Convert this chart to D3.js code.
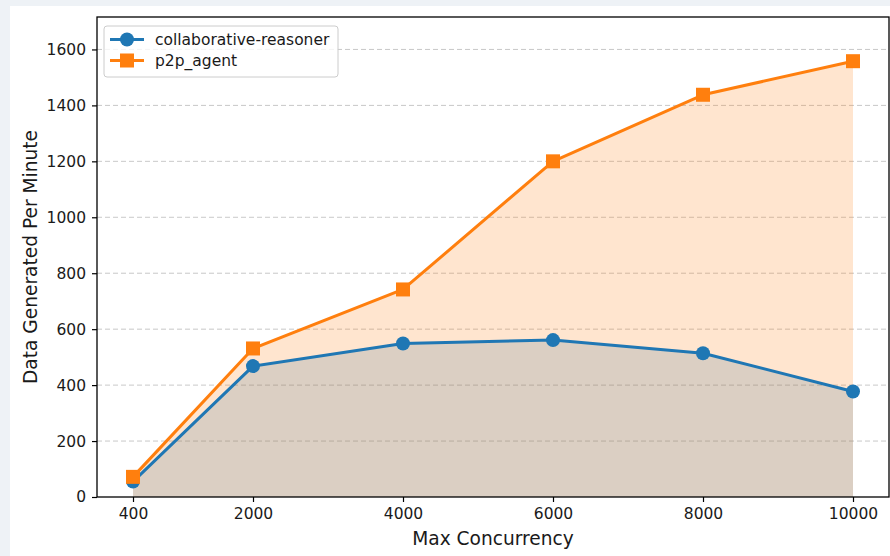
<!DOCTYPE html>
<html>
<head>
<meta charset="utf-8">
<script src="https://cdn.jsdelivr.net/npm/d3@7"></script>
<style>
  html, body { margin: 0; padding: 0; background: #eef2f6; }
  svg { display: block; }
  text { font-family: "DejaVu Sans", sans-serif; fill: #1a1a1a; }
</style>
</head>
<body>
<script>
// données
const concurrence = [400, 2000, 4000, 6000, 8000, 10000];
const collaboratif = [55, 468, 549, 561, 514, 377];
const p2p = [72, 531, 742, 1200, 1438, 1558];
const graduationsY = [0, 200, 400, 600, 800, 1000, 1200, 1400, 1600];

const series = [
  { nom: 'collaborative-reasoner', valeurs: collaboratif, couleur: '#1f77b4', marque: 'cercle' },
  { nom: 'p2p_agent', valeurs: p2p, couleur: '#ff7f0e', marque: 'carre' }
];

const largeur = 890, hauteur = 556;
const marge = { gauche: 97, droite: 889, haut: 17, bas: 497 };

// le canevas
const canevas = d3.select('body').append('svg')
  .attr('width', largeur)
  .attr('height', hauteur);

// carte blanche sur le fond gris
canevas.append('rect')
  .attr('x', 10).attr('y', 6)
  .attr('width', largeur).attr('height', hauteur)
  .attr('fill', '#ffffff');

// échelles
const x = d3.scaleLinear().domain([-80, 10480]).range([marge.gauche, marge.droite]);
const y = d3.scaleLinear().domain([0, 1716]).range([marge.bas, marge.haut]);

// grille horizontale en pointillés
canevas.append('g')
  .selectAll('line')
  .data(graduationsY.filter(d => d > 0))
  .join('line')
  .attr('x1', marge.gauche).attr('x2', marge.droite)
  .attr('y1', d => y(d)).attr('y2', d => y(d))
  .attr('stroke', '#b0b0b0')
  .attr('stroke-opacity', 0.7)
  .attr('stroke-width', 1)
  .attr('stroke-dasharray', '5,3');

// aires remplies (bleu puis orange par-dessus)
const aire = d3.area()
  .x((d, i) => x(concurrence[i]))
  .y0(y(0))
  .y1(d => y(d));

series.forEach(s => {
  canevas.append('path')
    .attr('d', aire(s.valeurs))
    .attr('fill', s.couleur)
    .attr('fill-opacity', 0.2);
});

// lignes et marqueurs
const ligne = d3.line()
  .x((d, i) => x(concurrence[i]))
  .y(d => y(d));

const dessinerMarque = (g, s, cx, cy) => {
  if (s.marque === 'cercle') {
    g.append('circle')
      .attr('cx', cx).attr('cy', cy).attr('r', 7)
      .attr('fill', s.couleur);
  } else {
    g.append('rect')
      .attr('x', cx - 7).attr('y', cy - 7)
      .attr('width', 14).attr('height', 14)
      .attr('fill', s.couleur);
  }
};

series.forEach(s => {
  const g = canevas.append('g');
  g.append('path')
    .attr('d', ligne(s.valeurs))
    .attr('fill', 'none')
    .attr('stroke', s.couleur)
    .attr('stroke-width', 3)
    .attr('stroke-linejoin', 'round');
  s.valeurs.forEach((v, i) => dessinerMarque(g, s, x(concurrence[i]), y(v)));
});

// axes
const axeX = canevas.append('g')
  .attr('transform', `translate(0,${marge.bas})`)
  .call(d3.axisBottom(x).tickValues(concurrence).tickFormat(d3.format('d')).tickSize(5).tickPadding(6).tickSizeOuter(0));
const axeY = canevas.append('g')
  .attr('transform', `translate(${marge.gauche},0)`)
  .call(d3.axisLeft(y).tickValues(graduationsY).tickFormat(d3.format('d')).tickSize(5).tickPadding(6).tickSizeOuter(0));

[axeX, axeY].forEach(a => {
  a.select('.domain').remove();
  a.selectAll('line').attr('stroke', '#000').attr('stroke-width', 1.2);
  a.selectAll('text').attr('font-size', 15.5).attr('fill', '#1a1a1a')
    .attr('font-family', '"DejaVu Sans", sans-serif');
});

// cadre du graphique
canevas.append('rect')
  .attr('x', marge.gauche).attr('y', marge.haut)
  .attr('width', marge.droite - marge.gauche)
  .attr('height', marge.bas - marge.haut)
  .attr('fill', 'none')
  .attr('stroke', '#000')
  .attr('stroke-width', 1.3);

// titres des axes
canevas.append('text')
  .attr('x', (marge.gauche + marge.droite) / 2)
  .attr('y', 545)
  .attr('text-anchor', 'middle')
  .attr('font-size', 18.6)
  .text('Max Concurrency');

canevas.append('text')
  .attr('transform', `translate(37,${(marge.haut + marge.bas) / 2}) rotate(-90)`)
  .attr('text-anchor', 'middle')
  .attr('font-size', 18.6)
  .text('Data Generated Per Minute');

// légende
const legende = canevas.append('g').attr('transform', 'translate(104,26)');
legende.append('rect')
  .attr('width', 234).attr('height', 51)
  .attr('rx', 3)
  .attr('fill', '#ffffff').attr('fill-opacity', 0.8)
  .attr('stroke', '#cccccc').attr('stroke-width', 1);

series.forEach((s, i) => {
  const cy = 13.5 + i * 21;
  const g = legende.append('g');
  g.append('line')
    .attr('x1', 6).attr('x2', 40)
    .attr('y1', cy).attr('y2', cy)
    .attr('stroke', s.couleur).attr('stroke-width', 3);
  dessinerMarque(g, s, 23, cy);
  g.append('text')
    .attr('x', 51).attr('y', cy)
    .attr('dy', '0.35em')
    .attr('font-size', 15.5)
    .text(s.nom);
});
</script>
</body>
</html>
